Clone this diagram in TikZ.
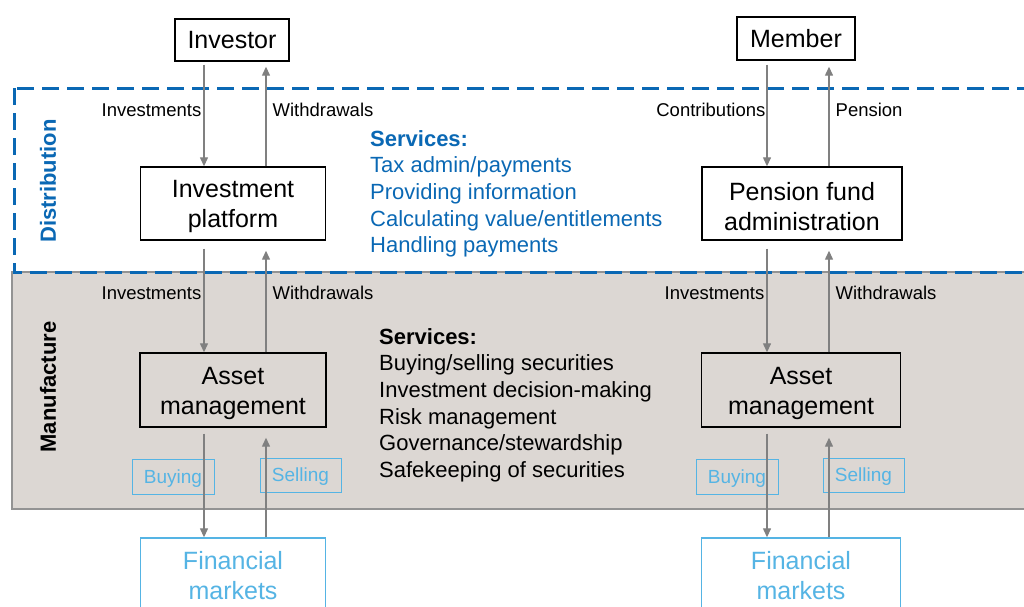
\documentclass[tikz,border=0pt]{standalone}
\usepackage{fontspec}
\setmainfont{Liberation Sans}
\usetikzlibrary{arrows.meta}
\definecolor{ukblue}{HTML}{0A68B4}
\definecolor{skyline}{HTML}{55B4E4}
\definecolor{mfgrey}{HTML}{DCD7D3}
\definecolor{flowgrey}{HTML}{808080}
\newcommand{\boxstrut}{\rule{0pt}{24pt}}

\begin{document}
\begin{tikzpicture}[x=1pt, y=-1pt,
    box/.style={rectangle, draw, line width=1.4pt, fill=white, align=center, inner sep=0pt, font=\fontsize{25}{30}\selectfont},
    market/.style={rectangle, draw=skyline, line width=1.4pt, fill=white, text=skyline, align=center, inner sep=0pt, minimum width=185pt, minimum height=76pt, font=\fontsize{25}{30}\selectfont},
    tag/.style={rectangle, draw=skyline, line width=1pt, text=skyline, inner sep=0pt, text depth=0pt, minimum width=82pt, minimum height=35pt, font=\fontsize{19}{23}\selectfont},
    lbl/.style={inner sep=0pt, font=\fontsize{18.5}{22}\selectfont},
    svc/.style={inner sep=0pt, align=left, font=\fontsize{22}{26.7}\selectfont},
    side/.style={rotate=90, inner sep=0pt, font=\fontsize{22}{26}\selectfont\bfseries},
    flow/.style={draw=flowgrey, line width=1.3pt, -{Triangle[length=9pt, width=8pt]}}
]
\useasboundingbox (0,0) rectangle (1024,606);
\clip (0,0) rectangle (1024,606);

% layers
\fill[mfgrey, draw=gray!85, line width=1.2pt] (12,272) rectangle (1040,509);
\draw[ukblue, line width=3pt, dash pattern=on 17pt off 8pt] (14,88) rectangle (1040,272);
\node[side, text=ukblue] (dist) at (48,181) {Distribution};
\node[side] (manu) at (48,387) {Manufacture};

% left column
\node[box, minimum width=114pt, minimum height=42pt] (investor) at (232,40) {Investor};
\node[box, minimum width=185pt, minimum height=73pt] (platform) at (233,203.5) {\boxstrut Investment\\platform};
\node[box, fill=none, minimum width=186pt, minimum height=74pt] (assetL) at (233,390) {\boxstrut Asset\\management};
\node[tag] (buyL) at (173,476.5) {Buying};
\node[tag, minimum width=81pt, minimum height=34pt] (sellL) at (300.5,475) {Selling};
\node[market] (marketL) at (233,576) {Financial\\markets};

% right column
\node[box, minimum width=118pt, minimum height=43pt] (member) at (796,38.5) {Member};
\node[box, minimum width=200pt, minimum height=73pt] (pension) at (802,203.5) {\boxstrut Pension fund\\administration};
\node[box, fill=none, minimum width=199pt, minimum height=74pt] (assetR) at (801,390) {\boxstrut Asset\\management};
\node[tag] (buyR) at (737,476.5) {Buying};
\node[tag, minimum width=81pt, minimum height=34pt] (sellR) at (863.5,475) {Selling};
\node[market, minimum width=199pt] (marketR) at (801,576) {Financial\\markets};

% services
\node[svc, text=ukblue, anchor=north west] (distsvc) at (370,130)
    {\textbf{Services:}\\Tax admin/payments\\Providing information\\Calculating value/entitlements\\Handling payments};
\node[svc, anchor=north west] (manusvc) at (379,328)
    {\textbf{Services:}\\Buying/selling securities\\Investment decision-making\\Risk management\\Governance/stewardship\\Safekeeping of securities};

% flows left
\draw[flow, shorten <=3pt] ([xshift=-29pt]platform.north |- investor.south) -- node[lbl, left=2pt, pos=.46] {Investments} ([xshift=-29pt]platform.north);
\draw[flow, shorten >=5pt] ([xshift=33pt]platform.north) -- node[lbl, right=6pt, pos=.54] {Withdrawals} ([xshift=33pt]platform.north |- investor.south);
\draw[flow, shorten <=8pt] ([xshift=-29pt]platform.south) -- node[lbl, left=2pt, pos=.47] {Investments} ([xshift=-29pt]assetL.north);
\draw[flow, shorten >=10pt] ([xshift=33pt]assetL.north) -- node[lbl, right=6pt, pos=.53] {Withdrawals} ([xshift=33pt]platform.south);
\draw[flow, shorten <=6pt] ([xshift=-29pt]assetL.south) -- ([xshift=-29pt]marketL.north);
\draw[flow, shorten >=10pt] ([xshift=33pt]marketL.north) -- ([xshift=33pt]assetL.south);

% flows right
\draw[flow, shorten <=4pt] ([xshift=-35pt]pension.north |- member.south) -- node[lbl, left=1pt, pos=.47] {Contributions} ([xshift=-35pt]pension.north);
\draw[flow, shorten >=6pt] ([xshift=27pt]pension.north) -- node[lbl, right=6pt, pos=.53] {Pension} ([xshift=27pt]pension.north |- member.south);
\draw[flow, shorten <=8pt] ([xshift=-35pt]pension.south) -- node[lbl, left=2pt, pos=.47] {Investments} ([xshift=-34pt]assetR.north);
\draw[flow, shorten >=10pt] ([xshift=28pt]assetR.north) -- node[lbl, right=6pt, pos=.53] {Withdrawals} ([xshift=27pt]pension.south);
\draw[flow, shorten <=6pt] ([xshift=-34pt]assetR.south) -- ([xshift=-34pt]marketR.north);
\draw[flow, shorten >=10pt] ([xshift=28pt]marketR.north) -- ([xshift=28pt]assetR.south);
\end{tikzpicture}
\end{document}
